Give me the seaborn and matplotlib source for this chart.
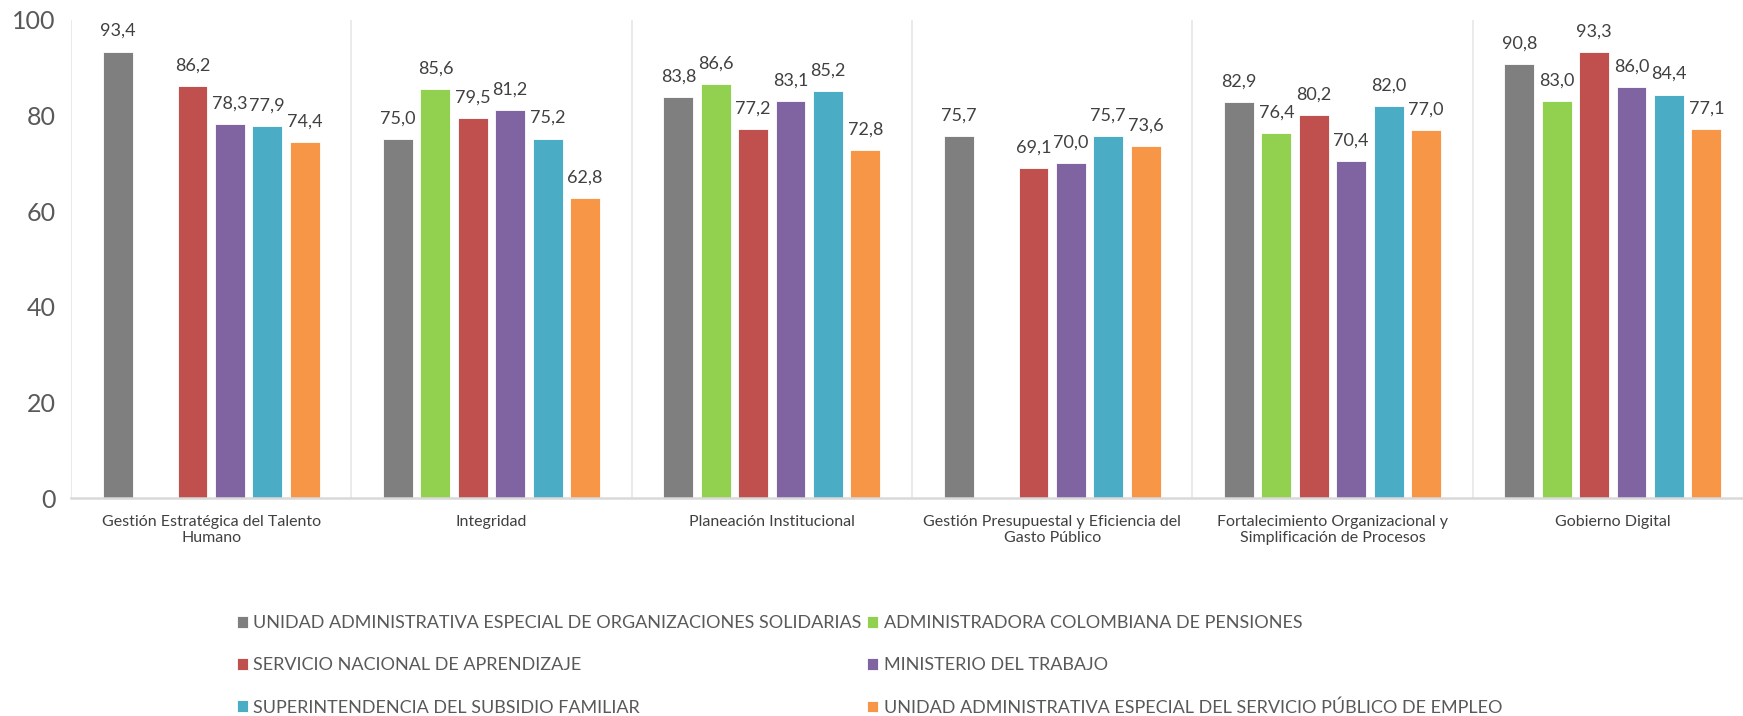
import numpy as np
import pandas as pd
import matplotlib
matplotlib.use("Agg")
import matplotlib.pyplot as plt
import seaborn as sns

categories = [
    "Gestión Estratégica del Talento\nHumano",
    "Integridad",
    "Planeación Institucional",
    "Gestión Presupuestal y Eficiencia del\nGasto Público",
    "Fortalecimiento Organizacional y\nSimplificación de Procesos",
    "Gobierno Digital",
]
entidades = [
    "UNIDAD ADMINISTRATIVA ESPECIAL DE ORGANIZACIONES SOLIDARIAS",
    "ADMINISTRADORA COLOMBIANA DE PENSIONES",
    "SERVICIO NACIONAL DE APRENDIZAJE",
    "MINISTERIO DEL TRABAJO",
    "SUPERINTENDENCIA DEL SUBSIDIO FAMILIAR",
    "UNIDAD ADMINISTRATIVA ESPECIAL DEL SERVICIO PÚBLICO DE EMPLEO",
]
solidarias = [93.4, 75.0, 83.8, 75.7, 82.9, 90.8]
colpensiones = [np.nan, 85.6, 86.6, np.nan, 76.4, 83.0]
sena = [86.2, 79.5, 77.2, 69.1, 80.2, 93.3]
mintrabajo = [78.3, 81.2, 83.1, 70.0, 70.4, 86.0]
supersubsidio = [77.9, 75.2, 85.2, 75.7, 82.0, 84.4]
empleo = [74.4, 62.8, 72.8, 73.6, 77.0, 77.1]

colors = ["#7F7F7F", "#92D050", "#C0504D", "#8064A2", "#4BACC6", "#F79646"]

series = [solidarias, colpensiones, sena, mintrabajo, supersubsidio, empleo]
rows = []
for ent, vals in zip(entidades, series):
    for cat, v in zip(categories, vals):
        rows.append({"categoria": cat, "entidad": ent, "valor": v})
df = pd.DataFrame(rows).dropna()

sns.set_style("white")
plt.rcParams["font.family"] = ["Lato", "DejaVu Sans"]

fig = plt.figure(figsize=(17.43, 7.16), dpi=100)
ax = fig.add_axes([71 / 1743, 1 - 498 / 716, (1753 - 71) / 1743, (498 - 20) / 716])

sns.barplot(data=df, x="categoria", y="valor", hue="entidad",
            order=categories, hue_order=entidades, palette=colors,
            errorbar=None, width=0.8, gap=0.2, saturation=1,
            edgecolor="white", linewidth=0.6, ax=ax)

for c in ax.containers:
    ax.bar_label(c, fmt=lambda v: f"{v:.1f}".replace(".", ","),
                 padding=9, fontsize=13, color="#404040")

ax.set_xlim(-0.5, len(categories) - 0.5)
ax.set_ylim(0, 100)
ax.set_yticks([0, 20, 40, 60, 80, 100])
ax.tick_params(axis="y", labelsize=18, labelcolor="#595959", length=0, pad=11)
ax.tick_params(axis="x", labelsize=11.5, labelcolor="#404040", length=0, pad=12)
ax.set_xlabel("")
ax.set_ylabel("")
for k in range(len(categories) + 1):
    ax.axvline(k - 0.5, color="#E6E6E6", lw=1.2, zorder=0)
for s in ["top", "right", "left"]:
    ax.spines[s].set_visible(False)
ax.spines["bottom"].set_color("#D9D9D9")
ax.spines["bottom"].set_linewidth(1.8)

handles, labels = ax.get_legend_handles_labels()
ax.get_legend().remove()
idx = [0, 2, 4, 1, 3, 5]
fig.legend([handles[i] for i in idx], [labels[i] for i in idx],
           loc="upper left", bbox_to_anchor=(230 / 1743, 1 - 608 / 716),
           ncol=2, frameon=False, fontsize=13, labelcolor="#595959",
           handlelength=0.6, handleheight=0.6, handletextpad=0.3,
           columnspacing=0.3, labelspacing=1.45, borderaxespad=0)

fig.savefig("out.png", dpi=100)
